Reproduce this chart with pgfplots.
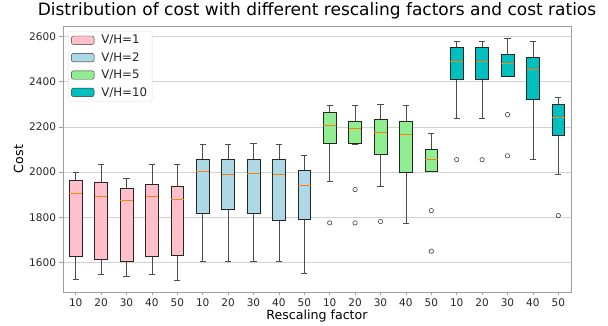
\documentclass[border=0pt]{standalone}
\usepackage{pgfplots}
\pgfplotsset{compat=1.18}
\usepackage{fontspec}
\setmainfont{DejaVu Sans}
\definecolor{bpink}{RGB}{255,192,203}
\definecolor{bblue}{RGB}{173,216,230}
\definecolor{bgreen}{RGB}{144,238,144}
\definecolor{bcyan}{RGB}{0,191,191}
\definecolor{morange}{RGB}{255,127,14}
\definecolor{txt}{RGB}{38,38,38}
\pgfplotsset{wh/.style={forget plot, draw=black!70, line width=0.6pt}}
\newcommand{\mybox}[7]{%
  \pgfmathsetmacro\boxl{#1-0.25}\pgfmathsetmacro\boxr{#1+0.25}%
  \pgfmathsetmacro\capl{#1-0.125}\pgfmathsetmacro\capr{#1+0.125}%
  \addplot[wh] coordinates {(#1,#3) (#1,#4)};
  \addplot[wh] coordinates {(#1,#6) (#1,#7)};
  \addplot[wh] coordinates {(\capl,#3) (\capr,#3)};
  \addplot[wh] coordinates {(\capl,#7) (\capr,#7)};
  \addplot[forget plot, fill=#2, draw=black!85, line width=0.6pt]
    coordinates {(\boxl,#4) (\boxr,#4) (\boxr,#6) (\boxl,#6)} -- cycle;
  \addplot[forget plot, draw=morange, line width=0.8pt] coordinates {(\boxl,#5) (\boxr,#5)};
}
\begin{document}
\begin{tikzpicture}
\begin{axis}[name=ax,
  scale only axis, width=508pt, height=266pt,
  xmin=0.5, xmax=20.5, ymin=1471, ymax=2645,
  xtick={1,...,20},
  xticklabels={10,20,30,40,50,10,20,30,40,50,10,20,30,40,50,10,20,30,40,50},
  ytick={1600,1800,2000,2200,2400,2600},
  ymajorgrids, grid style={gray!35, line width=0.6pt},
  axis line style={gray!75, line width=0.8pt},
  tick style={gray!75, line width=0.6pt},
  tick align=outside, tick pos=left, major tick length=3.5pt,
  ticklabel style={font=\fontsize{10.5}{12}\selectfont, text=txt},
  /pgf/number format/assume math mode=true,
  /pgf/number format/1000 sep={},
  title={Distribution of cost with different rescaling factors and cost ratios},
  title style={font=\fontsize{17}{20}\selectfont, text=black, at={(0.5,1)}, anchor=south, yshift=-3pt},
  xlabel={Rescaling factor}, ylabel={Cost},
  label style={font=\fontsize{12.6}{14}\selectfont, text=black},
  xlabel style={yshift=3.5pt},
  ylabel style={yshift=-1pt},
  legend style={at={(0,1)}, anchor=north west, xshift=5pt, yshift=-5pt,
    draw=gray!25, rounded corners=2pt, font=\fontsize{11.8}{13}\selectfont,
    text=txt, row sep=3.2pt, inner xsep=3pt, inner ysep=2pt,
    /tikz/every odd column/.append style={column sep=5pt},
    /tikz/every even column/.append style={column sep=3pt}},
  legend cell align=left,
  legend image code/.code={\draw[#1] (0pt,-4.2pt) rectangle (22.7pt,4.2pt);},
]
\addlegendimage{fill=bpink, draw=black!80}\addlegendentry{V/H=1}
\addlegendimage{fill=bblue, draw=black!80}\addlegendentry{V/H=2}
\addlegendimage{fill=bgreen, draw=black!80}\addlegendentry{V/H=5}
\addlegendimage{fill=bcyan, draw=black!80}\addlegendentry{V/H=10}
% V/H=1
\mybox{1}{bpink}{1527}{1627}{1905}{1964}{2000}
\mybox{2}{bpink}{1551}{1617}{1892}{1957}{2035}
\mybox{3}{bpink}{1540}{1608}{1874}{1929}{1973}
\mybox{4}{bpink}{1551}{1627}{1892}{1947}{2035}
\mybox{5}{bpink}{1521}{1633}{1880}{1938}{2035}
% V/H=2
\mybox{6}{bblue}{1605}{1819}{2004}{2057}{2125}
\mybox{7}{bblue}{1605}{1835}{1991}{2057}{2125}
\mybox{8}{bblue}{1608}{1819}{1995}{2058}{2128}
\mybox{9}{bblue}{1605}{1788}{1991}{2056}{2125}
\mybox{10}{bblue}{1555}{1793}{1942}{2007}{2073}
% V/H=5
\mybox{11}{bgreen}{1958}{2128}{2207}{2264}{2294}
\mybox{12}{bgreen}{2122}{2126}{2192}{2225}{2294}
\mybox{13}{bgreen}{1938}{2077}{2176}{2232}{2300}
\mybox{14}{bgreen}{1774}{2001}{2167}{2225}{2295}
\mybox{15}{bgreen}{2002}{2004}{2057}{2102}{2172}
% V/H=10
\mybox{16}{bcyan}{2238}{2411}{2490}{2550}{2579}
\mybox{17}{bcyan}{2238}{2411}{2490}{2550}{2579}
\mybox{18}{bcyan}{2422}{2425}{2479}{2522}{2591}
\mybox{19}{bcyan}{2057}{2322}{2453}{2507}{2579}
\mybox{20}{bcyan}{1991}{2164}{2242}{2300}{2329}
% outliers
\addplot[forget plot, only marks, mark=o, mark size=2.2pt, mark options={draw=black!75, line width=0.6pt}]
  coordinates {(11,1776) (12,1923) (12,1776) (13,1782) (15,1830) (15,1651)
               (16,2055) (17,2055) (18,2254) (18,2072) (20,1808)};
\end{axis}
\pgfresetboundingbox
\path ([xshift=-63pt,yshift=-34pt]ax.south west) rectangle ([xshift=37pt,yshift=26pt]ax.north east);
\end{tikzpicture}
\end{document}
